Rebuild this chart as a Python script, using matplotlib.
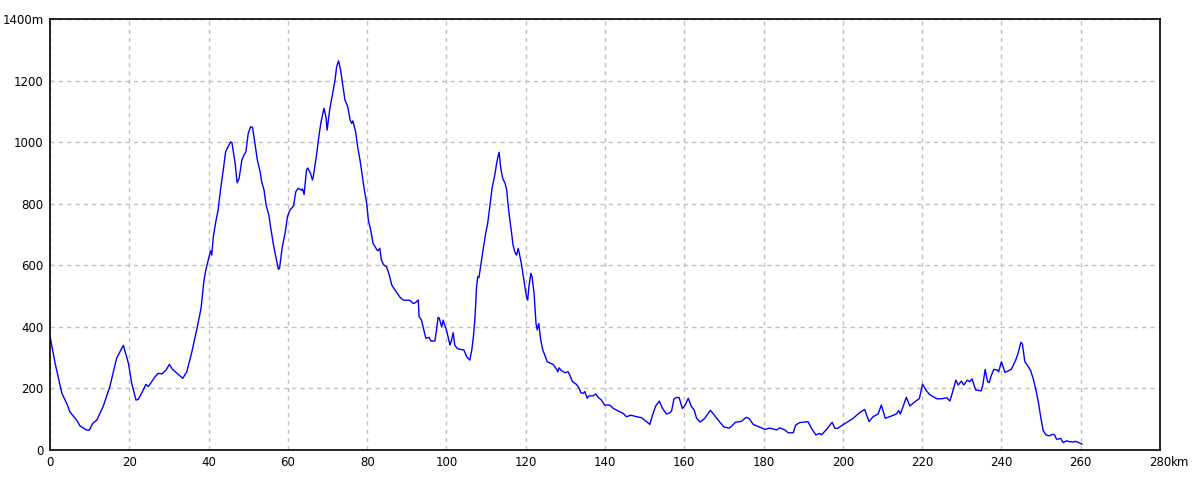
import matplotlib
matplotlib.use('Agg')
import matplotlib.pyplot as plt

# distance (km) and elevation (m) read from the profile
km = [0, 1.3, 3.0, 4.2, 5.0, 6.7, 7.6, 9.2, 9.9, 10.8, 11.8, 13.4, 15.1, 16.8, 18.5, 19.8,
      20.6, 21.7, 22.3, 23.1, 24.2, 24.8, 26.5, 27.3, 28.2, 29.3, 30.1, 30.9, 33.5, 34.5,
      35.7, 37.0, 38.1, 38.8, 39.3, 40.5, 40.8, 41.2, 41.9, 42.4, 43.0, 43.7, 44.3, 44.8,
      45.6, 45.9, 46.7, 47.2, 47.7, 48.4, 49.0, 49.4, 50.0, 50.6, 51.1, 51.7, 52.3, 53.0,
      53.4, 54.0, 54.5, 55.2, 55.7, 56.3, 56.9, 57.6, 57.9, 58.6, 59.3, 59.9, 60.5, 61.4,
      62.0, 62.6, 63.5, 63.7, 64.1, 64.7, 65.0, 65.7, 66.2, 66.4, 67.3, 67.7, 68.3, 69.1,
      69.6, 69.9, 70.6, 71.3, 71.9, 72.3, 72.8, 73.3, 73.8, 74.4, 75.1, 75.7, 76.1, 76.4,
      77.1, 77.6, 78.2, 78.8, 79.3, 79.9, 80.3, 80.9, 81.5, 82.4, 82.7, 83.2, 83.6, 84.2,
      84.9, 85.6, 86.2, 86.7, 88.3, 89.1, 90.8, 91.6, 92.1, 92.9, 93.1, 93.7, 94.3, 94.8,
      95.6, 96.1, 97.1, 97.5, 97.9, 98.2, 98.8, 99.2, 99.4, 99.9, 100.5, 100.9, 101.3,
      101.7, 102.1, 102.7, 103.4, 104.4, 105.1, 105.9, 106.4, 106.8, 107.2, 107.6, 107.9,
      108.2, 108.6, 109.3, 109.9, 110.4, 111.0, 111.5, 112.2, 112.6, 113.0, 113.3, 113.7,
      114.2, 114.8, 115.2, 115.6, 116.0, 116.4, 116.8, 117.3, 117.7, 118.1, 118.4, 118.9,
      119.4, 119.8, 120.2, 120.5, 120.8, 121.3, 121.6, 122.1, 122.6, 122.9, 123.3, 123.8,
      124.3, 124.8, 125.4, 126.9, 127.8, 128.1, 128.4, 129.0, 129.9, 130.7, 131.1, 131.8,
      132.8, 133.5, 133.9, 134.5, 134.9, 135.5, 136.0, 137.0, 137.7, 138.3, 139.1, 139.9,
      141.2, 142.1, 143.3, 144.6, 145.4, 146.5, 148.0, 149.2, 150.5, 151.3, 152.0, 152.8,
      153.7, 154.5, 155.5, 156.4, 156.8, 157.4, 158.1, 158.7, 159.5, 160.2, 161.0, 161.8,
      162.5, 163.1, 164.0, 165.1, 166.6, 167.9, 169.0, 170.0, 171.3, 172.0, 172.9, 174.4,
      175.6, 176.3, 177.4, 179.1, 180.3, 181.6, 183.3, 184.1, 185.4, 186.2, 187.5, 188.1,
      189.1, 191.2, 192.1, 193.2, 194.2, 194.6, 195.9, 197.3, 198.0, 198.8, 199.9, 201.3,
      202.6, 204.2, 205.5, 206.6, 207.6, 208.9, 209.7, 210.7, 211.8, 213.5, 214.1, 214.5,
      215.3, 216.0, 216.9, 218.2, 219.3, 220.1, 221.1, 221.9, 222.8, 223.8, 225.3, 226.2,
      227.0, 227.7, 228.5, 229.1, 229.9, 230.5, 231.4, 232.0, 232.6, 233.5, 234.9, 235.3,
      235.9, 236.5, 236.9, 237.5, 238.1, 238.9, 239.3, 240.0, 240.9, 241.7, 242.5, 243.6,
      244.2, 244.9, 245.3, 245.9, 246.5, 247.3, 248.0, 248.7, 249.3, 249.9, 250.5, 251.2,
      252.0, 253.0, 253.4, 253.9, 254.5, 254.9, 255.6, 256.4, 257.2, 258.1, 258.7, 259.5,
      260.3]
elev = [370, 281, 184, 152, 124, 97, 78, 65, 64, 87, 97, 141, 206, 298, 340, 281,
        217, 162, 165, 184, 213, 206, 238, 249, 247, 260, 278, 262, 233, 254,
        314, 390, 460, 547, 585, 647, 633, 693, 747, 779, 844, 909, 969, 982,
        1001, 998, 931, 868, 882, 942, 960, 968, 1028, 1050, 1048, 996, 942, 904,
        871, 844, 796, 763, 720, 671, 633, 587, 590, 660, 704, 758, 779, 792,
        839, 850, 844, 848, 830, 909, 916, 899, 877, 887, 964, 1007, 1061, 1110,
        1083, 1039, 1110, 1158, 1202, 1245, 1264, 1234, 1191, 1137, 1115, 1072, 1061, 1069,
        1034, 985, 942, 888, 844, 801, 747, 714, 671, 652, 647, 655, 617, 601,
        595, 568, 536, 526, 496, 487, 486, 476, 478, 487, 433, 422, 390, 363,
        366, 354, 354, 390, 431, 428, 400, 422, 411, 395, 363, 341, 357,
        381, 341, 330, 327, 325, 303, 292, 325, 368, 428, 530, 563,
        560, 595, 655, 704, 736, 796, 850, 893, 926, 953, 967, 915,
        882, 866, 844, 790, 747, 709, 666, 641, 633, 655, 638, 606,
        563, 530, 498, 487, 530, 574, 563, 509, 411, 390, 411, 357,
        325, 309, 287, 278, 262, 254, 267, 258, 251, 254, 244, 222,
        213, 200, 186, 184, 190, 168, 176, 176, 182, 171, 162, 146,
        146, 135, 127, 119, 108, 113, 108, 105, 92, 83, 114, 143,
        159, 135, 117, 121, 127, 166, 171, 170, 135, 146, 168, 141,
        130, 103, 91, 102, 129, 108, 90, 75, 71, 78, 90, 93,
        106, 103, 83, 74, 67, 71, 65, 72, 65, 56, 56, 81,
        89, 92, 70, 49, 54, 49, 67, 90, 70, 71, 81, 92,
        103, 121, 132, 92, 108, 117, 146, 103, 108, 117, 128, 117,
        145, 171, 143, 157, 167, 214, 192, 180, 173, 166, 167, 170,
        159, 189, 227, 211, 224, 211, 227, 222, 231, 195, 192, 211,
        262, 222, 219, 244, 262, 260, 254, 287, 252, 257, 262, 292,
        314, 350, 344, 287, 276, 260, 233, 195, 157, 108, 65, 49,
        46, 51, 49, 35, 36, 38, 24, 30, 27, 26, 28, 24,
        19]

xticks = list(range(0, 281, 20))
yticks = list(range(0, 1401, 200))
xlabels = [str(v) for v in xticks]
ylabels = [str(v) for v in yticks[:-1]] + ['1400m']

fig = plt.figure(figsize=(12, 4.8), dpi=100)
ax = fig.add_axes([50/1200, 30/480, 1110/1200, 431/480])

ax.plot(km, elev, color='#0000ff', linewidth=1)

ax.set_xlim(0, 280)
ax.set_ylim(0, 1400)
ax.set_xticks(xticks)
ax.set_xticklabels(xlabels, fontsize=8.5)
ax.set_yticks(yticks)
ax.set_yticklabels(ylabels, fontsize=8.5)
ax.tick_params(length=0, pad=4.5)
ax.grid(True, color='#c0c0c0', linestyle=(0, (3, 3)), linewidth=1)
for s in ax.spines.values():
    s.set_color('black')
    s.set_linewidth(1.2)

# unit after the last x label
ax.annotate('km', xy=(280, 0), xytext=(8, -4.5), textcoords='offset points',
            ha='left', va='top', fontsize=8.5, annotation_clip=False)

fig.savefig('out.png', dpi=100)
